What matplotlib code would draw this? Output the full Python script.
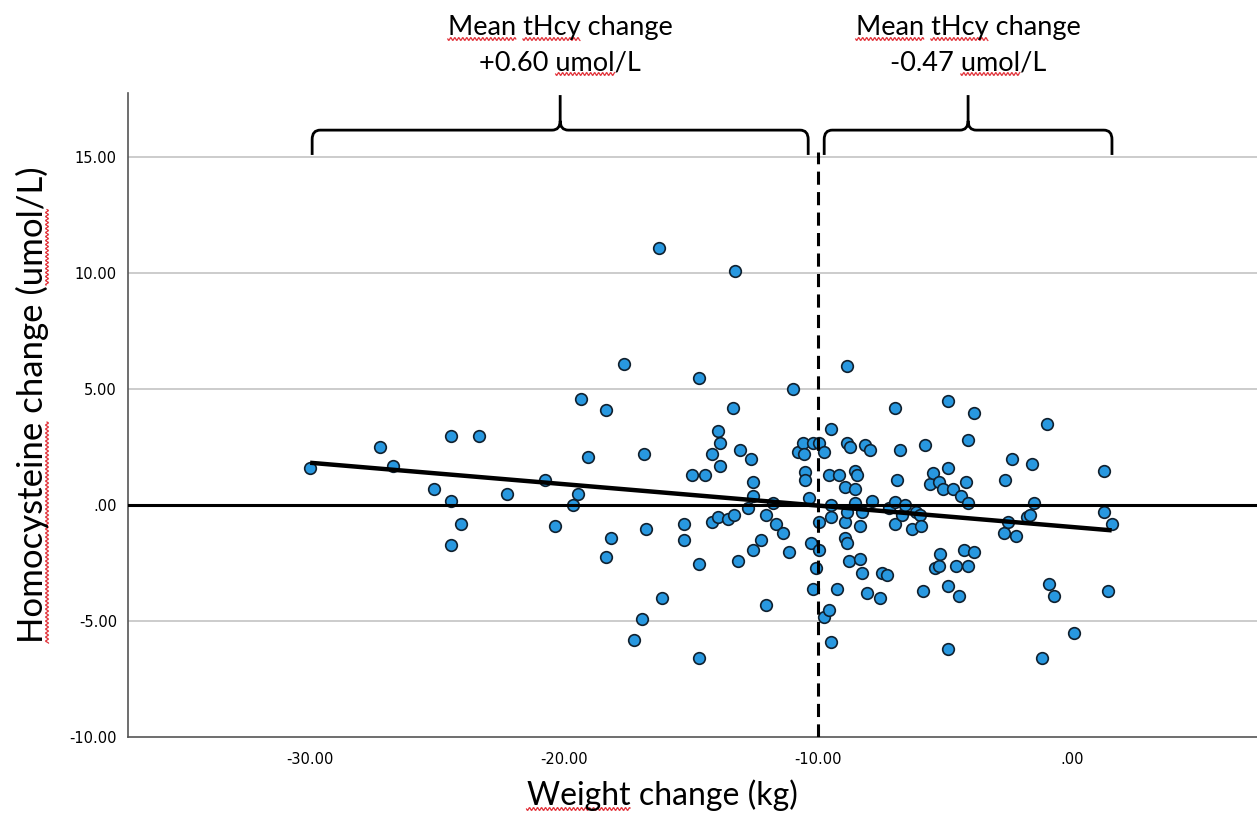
import numpy as np
import matplotlib
matplotlib.use("Agg")
import matplotlib.pyplot as plt
from matplotlib.path import Path
from matplotlib.patches import PathPatch
from matplotlib.lines import Line2D

# weight change (kg) vs homocysteine change (umol/L)
weight_change = [
    -30.00, -27.23, -26.72, -25.14, -24.44, -24.44, -24.04, -24.44, -23.36, -22.26,
    -20.75, -20.34, -19.65, -19.44, -19.35, -19.06, -18.35, -18.35, -18.16, -17.65,
    -17.24, -16.94, -16.85, -16.77, -16.26, -16.14, -15.27, -15.27, -14.97, -14.67,
    -14.67, -14.67, -14.47, -14.18, -14.18, -13.95, -13.95, -13.88, -13.86, -13.56,
    -13.36, -13.33, -13.27, -13.17, -13.07, -12.77, -12.65, -12.55, -12.55, -12.55,
    -12.26, -12.07, -12.07, -11.76, -11.66, -11.37, -11.16, -10.98, -10.78, -10.59,
    -10.55, -10.50, -10.50, -10.37, -10.29, -10.20, -10.20, -10.07, -9.98, -9.98,
    -9.98, -9.76, -9.76, -9.57, -9.48,
    -9.57, -9.50, -9.48, -9.48, -9.26, -9.16, -8.95, -8.95, -8.95, -8.87,
    -8.86, -8.85, -8.85, -8.78, -8.76, -8.56, -8.56, -8.56, -8.46, -8.37,
    -8.35, -8.26, -8.26, -8.17, -8.08, -7.97, -7.88, -7.57, -7.48, -7.28,
    -7.19, -6.98, -6.98, -6.98, -6.89, -6.77, -6.68, -6.57, -6.30, -6.14,
    -6.00, -5.96, -5.88, -5.79, -5.58, -5.49, -5.39, -5.25, -5.25, -5.20,
    -5.09, -4.88, -4.88, -4.88, -4.88, -4.68, -4.58, -4.47, -4.38, -4.27,
    -4.17, -4.08, -4.08, -4.08, -3.87, -3.87, -2.69, -2.64, -2.51, -2.38,
    -2.20, -1.79, -1.67, -1.58, -1.49, -1.19, -0.98, -0.89, -0.71, 0.09,
    1.24, 1.25, 1.41, 1.56,
]
hcy_change = [
    1.58, 2.49, 1.68, 0.69, 2.99, 0.19, -0.82, -1.72, 2.99, 0.49,
    1.08, -0.92, -0.01, 0.49, 4.57, 2.08, 4.08, -2.23, -1.42, 6.08,
    -5.82, -4.93, 2.18, -1.02, 11.06, -4.01, -0.82, -1.52, 1.29, 5.47,
    -2.53, -6.61, 1.29, 2.18, -0.72, 3.19, -0.52, 1.69, 2.69, -0.62,
    4.18, -0.42, 10.09, -2.41, 2.38, -0.12, 1.98, 0.98, 0.39, -1.93,
    -1.52, -0.42, -4.31, 0.10, -0.82, -1.22, -2.03, 4.99, 2.28, 2.69,
    2.18, 1.41, 1.08, 0.29, -1.62, 2.69, -3.60, -2.70, 2.69, -0.72,
    -1.93, 2.28, -4.81, -4.53, -5.92,
    1.29, -0.01, 3.29, -0.52, -3.60, 1.29, 0.79, -0.72, -1.42, 2.69,
    5.99, -0.32, -1.62, -2.43, 2.49, 1.48, 0.68, 0.09, 1.29, -2.33,
    -0.92, -0.32, -2.92, 2.59, -3.81, 2.38, 0.19, -4.01, -2.92, -3.02,
    -0.12, 4.18, 0.12, -0.82, 1.08, 2.38, -0.42, -0.01, -1.02, -0.32,
    -0.42, -0.92, -3.71, 2.59, 0.89, 1.38, -2.70, 1.00, -2.62, -2.13,
    0.68, 4.50, 1.58, -3.50, -6.21, 0.68, -2.62, -3.91, 0.39, -1.93,
    0.98, 2.79, 0.09, -2.62, 3.98, -2.03, -1.22, 1.08, -0.72, 1.98,
    -1.32, -0.52, -0.42, 1.78, 0.09, -6.61, 3.48, -3.41, -3.91, -5.50,
    -0.32, 1.48, -3.71, -0.82,
]

# linear fit line as drawn in the figure
fit_intercept = -0.948
fit_slope = -0.0923

x_ticks = [-30, -20, -10, 0]
x_ticklabels = ["-30.00", "-20.00", "-10.00", ".00"]
y_ticks = [-10, -5, 0, 5, 10, 15]
y_ticklabels = ["-10.00", "-5.00", ".00", "5.00", "10.00", "15.00"]

cutoff = -10
group_start = [-29.92, -9.76]
group_end = [-10.39, 1.57]
group_mean = ["+0.60", "-0.47"]

W, H = 1257, 830
fig = plt.figure(figsize=(W / 100, H / 100), dpi=100)
ax = fig.add_axes([128 / W, 1 - 737 / H, 1 - 128 / W, (737 - 93) / H])

ax.set_xlim(-37.17, 7.28)
ax.set_ylim(-10, 17.76)

for yv in [15, 10, 5, -5]:
    ax.axhline(yv, color="#c4c4c4", lw=1.2, zorder=1)

ax.scatter(weight_change, hcy_change, s=70, facecolor="#2898e0",
           edgecolor="#10202e", linewidth=1.2, zorder=3)

ax.axhline(0, color="black", lw=2.2, zorder=4)

xs = np.array([min(weight_change), max(weight_change)])
ax.plot(xs, fit_intercept + fit_slope * xs, color="black", lw=3.2,
        solid_capstyle="butt", zorder=5)

ax.plot([cutoff, cutoff], [-10, 15.2], color="black", lw=2.2,
        linestyle=(0, (4.3, 2.4)), zorder=6)


def brace(x0, x1, y_base=15.09, y_mid=16.16, y_tip=17.67, rx=0.32, ry=0.4):
    xm = (x0 + x1) / 2
    verts = [
        (x0, y_base), (x0, y_mid - ry), (x0, y_mid), (x0 + rx, y_mid),
        (xm - rx, y_mid), (xm, y_mid), (xm, y_mid + ry), (xm, y_tip),
        (xm, y_mid + ry), (xm, y_mid), (xm + rx, y_mid),
        (x1 - rx, y_mid), (x1, y_mid), (x1, y_mid - ry), (x1, y_base),
    ]
    codes = [
        Path.MOVETO, Path.LINETO, Path.CURVE3, Path.CURVE3,
        Path.LINETO, Path.CURVE3, Path.CURVE3, Path.LINETO,
        Path.MOVETO, Path.CURVE3, Path.CURVE3,
        Path.LINETO, Path.CURVE3, Path.CURVE3, Path.LINETO,
    ]
    return PathPatch(Path(verts, codes), fill=False, lw=2.0, color="black",
                     clip_on=False, capstyle="butt", zorder=6)


ax.set_xticks(x_ticks)
ax.set_xticklabels(x_ticklabels, family="DejaVu Sans", fontsize=10.5)
ax.set_yticks(y_ticks)
ax.set_yticklabels(y_ticklabels, family="DejaVu Sans", fontsize=10.5)
ax.tick_params(axis="both", length=0)
ax.tick_params(axis="x", pad=11)
ax.tick_params(axis="y", pad=8)

for side in ["top", "right"]:
    ax.spines[side].set_visible(False)
for side in ["left", "bottom"]:
    ax.spines[side].set_color("#555555")
    ax.spines[side].set_linewidth(1.2)

# --- text, placed in pixel coordinates (y from top) ---
renderer = fig.canvas.get_renderer()
txt_kw = dict(family="Lato")


def fx(x):
    return x / W


def fy(y):
    return 1 - y / H


def text_width(s, size):
    t = fig.text(0, 0, s, fontsize=size, **txt_kw)
    w = t.get_window_extent(renderer).width
    t.remove()
    return w


def squiggle(a, b, c, vertical=False):
    # red spell-check wave from a to b, at c (pixels)
    t = np.arange(a, b, 0.5)
    off = c + 1.4 * np.sin(2 * np.pi * (t - a) / 4.0)
    if vertical:
        xx, yy = fx(off), fy(t)
    else:
        xx, yy = fx(t), fy(off)
    fig.add_artist(Line2D(xx, yy, color="#e2343c", lw=0.9,
                          transform=fig.transFigure))


def centered_line(xc, baseline, s, size, marks):
    fig.text(fx(xc), fy(baseline), s, fontsize=size, ha="center",
             va="baseline", **txt_kw)
    left = xc - text_width(s, size) / 2
    for word in marks:
        i = s.index(word)
        a = left + (text_width(s[:i], size) if i else 0)
        squiggle(a, a + text_width(word, size), baseline + 4)


top_size = 19.5
for x0, x1, mean in zip(group_start, group_end, group_mean):
    ax.add_patch(brace(x0, x1))
    xc = ax.transData.transform(((x0 + x1) / 2, 0))[0]
    centered_line(xc, 35, "Mean tHcy change", top_size, ["Mean", "tHcy"])
    centered_line(xc, 70, mean + " umol/L", top_size, ["umol"])

label_size = 23
centered_line(662, 805, "Weight change (kg)", label_size, ["Weight"])

ylab = "Homocysteine change (umol/L)"
ylab_size = 25
yc, xb = 405, 43
fig.text(fx(xb), fy(yc), ylab, fontsize=ylab_size, rotation=90,
         rotation_mode="anchor", ha="center", va="baseline", **txt_kw)
bottom = yc + text_width(ylab, ylab_size) / 2
for word in ["Homocysteine", "umol"]:
    i = ylab.index(word)
    a = bottom - (text_width(ylab[:i], ylab_size) if i else 0)
    squiggle(a - text_width(word, ylab_size), a, xb + 4, vertical=True)

fig.savefig("out.png", dpi=100)
